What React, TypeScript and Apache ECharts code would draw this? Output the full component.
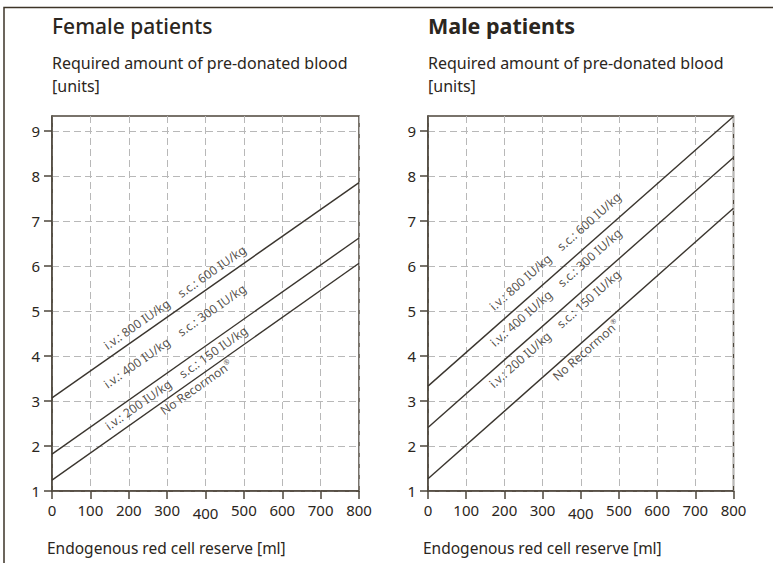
import React, { useEffect, useRef } from "react";
import * as echarts from "echarts";

// ---- data ----
const xTicks = [0, 100, 200, 300, 400, 500, 600, 700, 800];
const yTicks = [1, 2, 3, 4, 5, 6, 7, 8, 9];

const femaleHigh = [[0, 3.07], [800, 7.85]];
const femaleMid = [[0, 1.82], [800, 6.62]];
const femaleLow = [[0, 1.24], [800, 6.06]];

const maleHigh = [[0, 3.33], [800, 9.32]];
const maleMid = [[0, 2.41], [800, 8.41]];
const maleLow = [[0, 1.27], [800, 7.28]];

const labelTexts = [
  "i.v.: 800 IU/kg    s.c.: 600 IU/kg",
  "i.v.: 400 IU/kg    s.c.: 300 IU/kg",
  "i.v.: 200 IU/kg    s.c.: 150 IU/kg",
  "{a|No Recormon}{s|®}",
];
const femaleLabelAnchors = [[320, 5.3], [320, 4.44], [324, 3.51], [376, 3.3]];
const maleLabelAnchors = [[333, 6.32], [335, 5.52], [332, 4.6], [414, 4.13]];

const titles = ["Female patients", "Male patients"];
const subtitle = "Required amount of pre-donated blood\n[units]";
const xName = "Endogenous red cell reserve [ml]";

const FONT = "Noto Sans";
const TEXT = "#2b2620";
const AXIS = "#4d463b";
const LINE = "#3a352e";
const LABEL_SIZE = 12.2;

export default function App() {
  const ref = useRef<HTMLDivElement>(null);
  useEffect(() => {
    if (!ref.current) return;
    const chart = echarts.init(ref.current, undefined, { renderer: "svg" });

    const gridBase = { top: 116, height: 375, show: true, borderColor: AXIS, borderWidth: 1.5, containLabel: false };
    const xAxisBase = (gi: number) => ({
      type: "value",
      gridIndex: gi,
      min: xTicks[0],
      max: xTicks[xTicks.length - 1],
      interval: 100,
      axisLine: { show: true, onZero: false, lineStyle: { color: AXIS, width: 1.5 } },
      axisTick: { show: true, length: 8, lineStyle: { color: AXIS, width: 1.5 } },
      axisLabel: {
        fontSize: 15,
        color: TEXT,
        fontFamily: FONT,
        margin: 11,
        formatter: (v: number) => (v === 400 ? "{d|400}" : String(v)),
        rich: { d: { fontSize: 15, color: TEXT, fontFamily: FONT, padding: [3, 0, 0, 0] } },
      },
      splitLine: { show: true, lineStyle: { color: "#b8b8b8", width: 1, type: [7, 4] } },
    });
    const yAxisBase = (gi: number) => ({
      type: "value",
      gridIndex: gi,
      min: 1,
      max: 9.33,
      interval: 1,
      axisLine: { show: true, onZero: false, lineStyle: { color: AXIS, width: 1.5 } },
      axisTick: { show: true, length: 8, customValues: yTicks, lineStyle: { color: AXIS, width: 1.5 } },
      axisLabel: { fontSize: 15, color: TEXT, fontFamily: FONT, margin: 12, customValues: yTicks },
      splitLine: { show: true, lineStyle: { color: "#b8b8b8", width: 1, type: [7, 4] } },
    });

    const lineSeries = (data: number[][], gi: number) => ({
      type: "line",
      xAxisIndex: gi,
      yAxisIndex: gi,
      data,
      symbol: "none",
      silent: true,
      lineStyle: { color: LINE, width: 1.4 },
    });

    const labelSeries = (anchors: number[][], gi: number, rot: number) => ({
      type: "scatter",
      xAxisIndex: gi,
      yAxisIndex: gi,
      symbolSize: 0,
      silent: true,
      data: anchors.map((a, i) => ({ value: a, name: labelTexts[i] })),
      label: {
        show: true,
        position: "inside",
        rotate: rot,
        align: "center",
        verticalAlign: "middle",
        formatter: (p: any) => p.name,
        fontSize: LABEL_SIZE,
        fontFamily: FONT,
        color: TEXT,
        rich: {
          a: { fontSize: LABEL_SIZE, fontFamily: FONT, color: TEXT },
          s: { fontSize: 7, fontFamily: FONT, color: TEXT, padding: [0, 0, 7, 0] },
        },
      },
    });

    const titleAt = (text: string, left: number, top: number, size: number, weight: any, lh?: number) => ({
      text,
      left,
      top,
      padding: 0,
      textStyle: { fontSize: size, fontWeight: weight, color: TEXT, fontFamily: FONT, lineHeight: lh },
    });

    chart.setOption({
      animation: false,
      backgroundColor: "#ffffff",
      title: [
        titleAt(titles[0], 52, 15, 21, 500),
        titleAt(titles[1], 428, 14, 21.5, "bold"),
        titleAt(subtitle, 52, 51, 16, "normal", 23),
        titleAt(subtitle, 428, 51, 16, "normal", 23),
        titleAt(xName, 47, 540, 15.5, "normal"),
        titleAt(xName, 423, 540, 15.5, "normal"),
      ],
      grid: [
        { ...gridBase, left: 52, width: 307 },
        { ...gridBase, left: 428, width: 305.5 },
      ],
      xAxis: [xAxisBase(0), xAxisBase(1)],
      yAxis: [yAxisBase(0), yAxisBase(1)],
      series: [
        lineSeries(femaleHigh, 0),
        lineSeries(femaleMid, 0),
        lineSeries(femaleLow, 0),
        lineSeries(maleHigh, 1),
        lineSeries(maleMid, 1),
        lineSeries(maleLow, 1),
        labelSeries(femaleLabelAnchors, 0, 35.2),
        labelSeries(maleLabelAnchors, 1, 41.5),
      ],
      graphic: [
        {
          type: "rect",
          shape: { x: 4, y: 7.5, width: 900, height: 700 },
          style: { fill: "none", stroke: "#3d3428", lineWidth: 1.5 },
          silent: true,
        },
      ],
    });
    return () => chart.dispose();
  }, []);
  return (
    <div
      ref={ref}
      style={{ position: "absolute", left: 0, top: 0, width: 773, height: 563 }}
    />
  );
}
